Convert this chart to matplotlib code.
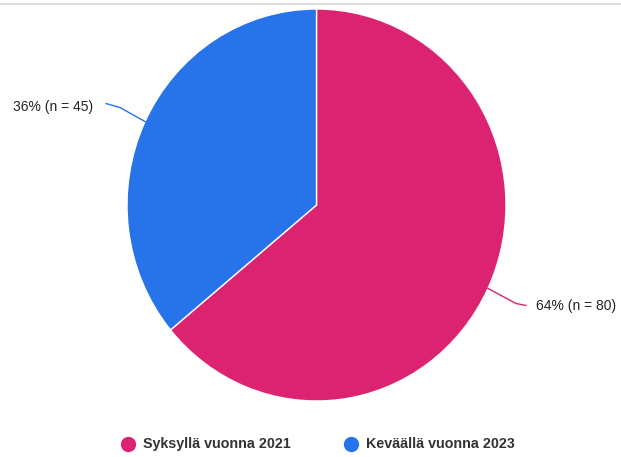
import numpy as np
import matplotlib
matplotlib.use("Agg")
import matplotlib.pyplot as plt
from matplotlib.lines import Line2D

categories = ["Syksyllä vuonna 2021", "Keväällä vuonna 2023"]
counts = [80, 45]
colors = ["#dc2372", "#2673ea"]

plt.rcParams['font.family'] = ['Liberation Sans', 'DejaVu Sans']

W, H = 621, 457
rx, ry = 189.5, 196.0          # pixel radii (slightly stretched vertically)
k = rx / ry                    # y data units per pixel
fig = plt.figure(figsize=(W / 100, H / 100), dpi=100)
ax = fig.add_axes([0, 0, 1, 1])

def py(y_px):
    return (H - y_px) * k

cx, cy = 316.5, py(205)
wedges, _ = ax.pie(counts, colors=colors, startangle=90, counterclock=False,
                   center=(cx, cy), radius=rx, frame=True,
                   wedgeprops=dict(edgecolor='white', linewidth=1))
ax.set_aspect('auto')
ax.set_xlim(0, W)
ax.set_ylim(0, H * k)
ax.axis('off')

total = sum(counts)
for w, n in zip(wedges, counts):
    ang = np.deg2rad((w.theta1 + w.theta2) / 2)
    ex, ey = cx + rx * np.cos(ang), cy + rx * np.sin(ang)
    pct = round(100 * n / total)
    label = f"{pct}% (n = {n})"
    if np.cos(ang) < 0:
        lx, ly = ex - 39, ey + 18 * k
        ax.plot([ex, lx + 14, lx], [ey, ly - 4 * k, ly], color=w.get_facecolor(), lw=1)
        ax.text(lx - 13, ly - 3 * k, label, ha='right', va='center', fontsize=10, color='#222222')
    else:
        lx, ly = ex + 38, ey - 17 * k
        ax.plot([ex, lx - 10, lx], [ey, ly + 2 * k, ly], color=w.get_facecolor(), lw=1)
        ax.text(lx + 10, ly - 1 * k, label, ha='left', va='center', fontsize=10, color='#222222')

# legend
leg_x = [128, 351]
for x, c, t in zip(leg_x, colors, categories):
    ax.plot([x], [py(444)], marker='o', markersize=10, color=c, linestyle='none')
    ax.text(x + 15, py(444), t, ha='left', va='center', fontsize=10.3,
            fontweight='bold', color='#333333')

# top border line
ax.add_line(Line2D([0, W], [py(3.5), py(3.5)], color='#dddddd', lw=1.5))

fig.savefig("out.png", dpi=100)
